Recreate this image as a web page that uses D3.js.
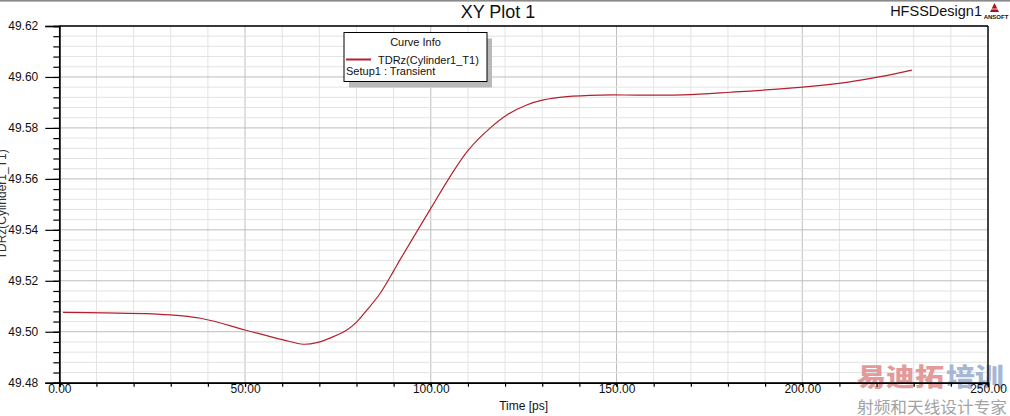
<!DOCTYPE html>
<html>
<head>
<meta charset="utf-8">
<script src="https://cdn.jsdelivr.net/npm/d3@7"></script>
<style>
  html, body { margin: 0; padding: 0; background: #fff; }
  svg { display: block; font-family: "Liberation Sans", Arial, sans-serif; }
</style>
</head>
<body>
<svg id="chart" width="1010" height="416"></svg>
<script>
// ---- data ----
const timePs = [1, 12, 25, 38, 50, 60.3, 65.7, 69.3, 73.8, 77.4, 80.1, 82.8, 86.4, 89.9, 91.7,
                100, 105.2, 110.1, 116.4, 120.5, 125.8, 130.3, 136.6, 145.6, 156, 168, 180.6,
                199.4, 212, 221, 229.5];
const tdrValues = [49.5076, 49.5074, 49.5070, 49.5053, 49.5007, 49.4968, 49.4951, 49.4957,
                   49.4981, 49.5007, 49.5039, 49.5085, 49.5151, 49.5236, 49.5282, 49.5484,
                   49.5609, 49.5713, 49.5805, 49.5851, 49.5890, 49.5910, 49.5923, 49.5929,
                   49.5929, 49.5930, 49.5940, 49.5959, 49.5979, 49.6001, 49.6027];
const xMajorTicks = [0, 50, 100, 150, 200, 250];
const xMinorTicks = d3.range(0, 251, 10);
const yMajorTicks = [49.48, 49.50, 49.52, 49.54, 49.56, 49.58, 49.60, 49.62];
const yMinorTicks = d3.range(0, 36).map(i => +(49.48 + i * 0.004).toFixed(3));
const seriesName = "TDRz(Cylinder1_T1)";
const seriesSetup = "Setup1 : Transient";

// ---- layout ----
const svg = d3.select("#chart");
const L = 59.3, R = 988, T = 26, B = 382.7;
const x = d3.scaleLinear().domain([0, 250]).range([L, R]);
const y = d3.scaleLinear().domain([49.48, 49.62]).range([B, T]);
const curveColor = "#b3212e";

// top strip
svg.append("rect").attr("x", 0).attr("y", 0).attr("width", 1010).attr("height", 1.6).attr("fill", "#8a8a8a");

// grid
const grid = svg.append("g");
grid.selectAll(".vx").data(xMinorTicks).join("line")
  .attr("x1", d => x(d)).attr("x2", d => x(d)).attr("y1", T).attr("y2", B)
  .attr("stroke", d => d % 50 === 0 ? "#bdbdbd" : "#e3e3e3").attr("stroke-width", 1);
grid.selectAll(".hy").data(yMinorTicks).join("line")
  .attr("x1", L).attr("x2", R).attr("y1", d => y(d)).attr("y2", d => y(d))
  .attr("stroke", d => Math.abs(Math.round(d * 50) - d * 50) < 1e-6 ? "#bdbdbd" : "#e3e3e3")
  .attr("stroke-width", 1);

// watermark
const wm = svg.append("g");
wm.append("text").attr("x", 857).attr("y", 386).attr("font-family", "Noto Sans CJK SC")
  .attr("font-weight", 900).attr("font-size", 25).attr("textLength", 87).attr("lengthAdjust", "spacingAndGlyphs")
  .attr("fill", "#e39a9a").text("易迪拓");
wm.append("text").attr("x", 946).attr("y", 386).attr("font-family", "Noto Sans CJK SC")
  .attr("font-weight", 900).attr("font-size", 25).attr("textLength", 58).attr("lengthAdjust", "spacingAndGlyphs")
  .attr("fill", "#a6b7d6").text("培训");
wm.append("text").attr("x", 857).attr("y", 413).attr("font-family", "Noto Sans CJK SC")
  .attr("font-size", 16).attr("textLength", 150).attr("lengthAdjust", "spacingAndGlyphs")
  .attr("fill", "#a3a3a3").text("射频和天线设计专家");

// curve
const line = d3.line().x((d, i) => x(timePs[i])).y(d => y(d)).curve(d3.curveCatmullRom.alpha(0.5));
svg.append("path").datum(tdrValues).attr("d", line)
  .attr("fill", "none").attr("stroke", curveColor).attr("stroke-width", 1.2);

// axes
const fmt = d3.format(".2f");
const yMaj = svg.append("g").attr("transform", `translate(${L},0)`)
  .call(d3.axisLeft(y).tickValues(yMajorTicks).tickSize(14).tickPadding(7).tickFormat(fmt));
const yMin = svg.append("g").attr("transform", `translate(${L},0)`)
  .call(d3.axisLeft(y).tickValues(yMinorTicks).tickSize(6).tickFormat(""));
const xMaj = svg.append("g").attr("transform", `translate(0,${B})`)
  .call(d3.axisBottom(x).tickValues(xMajorTicks).tickSize(4).tickFormat(fmt));
const xMin = svg.append("g").attr("transform", `translate(0,${B})`)
  .call(d3.axisBottom(x).tickValues(xMinorTicks).tickSize(4).tickFormat(""));
[yMaj, yMin, xMaj, xMin].forEach(g => {
  g.select(".domain").attr("stroke", "#000").attr("stroke-width", 1.4);
  g.selectAll(".tick line").attr("stroke", "#000").attr("stroke-width", 1.2);
  g.selectAll("text").attr("font-family", "Liberation Sans, Arial, sans-serif")
    .attr("font-size", 12).attr("fill", "#111");
});
xMaj.selectAll("text").attr("y", 9.8).attr("dy", 0);

// frame top/right
svg.append("line").attr("x1", L).attr("x2", R).attr("y1", T).attr("y2", T).attr("stroke", "#000").attr("stroke-width", 1.4);
svg.append("line").attr("x1", R).attr("x2", R).attr("y1", T).attr("y2", B).attr("stroke", "#000").attr("stroke-width", 1.4);

// axis titles
svg.append("text").attr("x", (L + R) / 2).attr("y", 409.5).attr("text-anchor", "middle")
  .attr("font-size", 12).attr("fill", "#111").text("Time [ps]");
svg.append("text").attr("transform", `translate(6,${(T + B) / 2}) rotate(-90)`)
  .attr("text-anchor", "middle").attr("font-size", 12).attr("fill", "#333").text(seriesName);

// title
svg.append("text").attr("x", 498).attr("y", 17.5).attr("text-anchor", "middle")
  .attr("font-size", 18).attr("fill", "#111").text("XY Plot 1");
svg.append("text").attr("x", 982).attr("y", 16).attr("text-anchor", "end")
  .attr("font-size", 14.5).attr("fill", "#111").text("HFSSDesign1");

// ansoft logo
const logo = svg.append("g");
logo.append("path").attr("d", "M994.5,3 L990,12 L999,12 Z").attr("fill", "#a8121b");
logo.append("line").attr("x1", 991).attr("x2", 998).attr("y1", 9).attr("y2", 9).attr("stroke", "#fff").attr("stroke-width", 0.8);
logo.append("text").attr("x", 996).attr("y", 18.5).attr("text-anchor", "middle")
  .attr("font-size", 6).attr("font-weight", "bold").attr("fill", "#111").text("ANSOFT");

// legend
const lg = svg.append("g");
const lx = 344, ly = 32.5, lw = 143, lh = 49;
lg.append("rect").attr("x", lx + 5).attr("y", ly + 6).attr("width", lw).attr("height", lh).attr("fill", "#b9b9b9");
lg.append("rect").attr("x", lx).attr("y", ly).attr("width", lw).attr("height", lh)
  .attr("fill", "#fff").attr("stroke", "#000").attr("stroke-width", 1);
lg.append("text").attr("x", lx + lw / 2).attr("y", 46).attr("text-anchor", "middle")
  .attr("font-size", 11).attr("fill", "#111").text("Curve Info");
lg.append("line").attr("x1", 346).attr("x2", 371).attr("y1", 59.5).attr("y2", 59.5)
  .attr("stroke", curveColor).attr("stroke-width", 2);
lg.append("text").attr("x", 378).attr("y", 63.5).attr("font-size", 11).attr("fill", "#111").text(seriesName);
lg.append("text").attr("x", 346).attr("y", 75).attr("font-size", 11).attr("fill", "#111").text(seriesSetup);
</script>
</body>
</html>
